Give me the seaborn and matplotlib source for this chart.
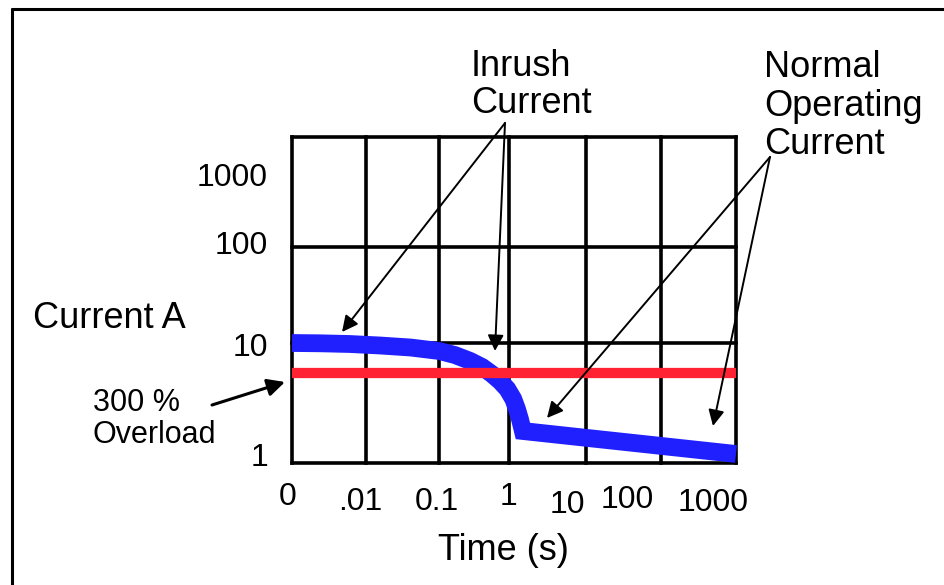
import matplotlib.pyplot as plt
import seaborn as sns
import pandas as pd
from matplotlib.lines import Line2D

# Schematic units: x = one grid column per decade, y = grid units
inrush_x = [0.00, 0.38, 0.78, 1.19, 1.60, 1.99, 2.20, 2.41, 2.57, 2.70, 2.81,
            2.91, 2.99, 3.04, 3.08, 3.11, 3.12, 6.00]
inrush_y = [1.20, 1.197, 1.19, 1.175, 1.155, 1.12, 1.08, 1.02, 0.96, 0.89, 0.82,
            0.74, 0.64, 0.54, 0.44, 0.35, 0.32, 0.09]
overload_x = [0.0, 6.0]
overload_y = [0.90, 0.90]

x_grid = [0.0, 1.0, 1.99, 2.93, 3.97, 4.99, 6.0]
y_grid = [0.0, 1.20, 2.16, 3.26]

x_tick_labels = ['0', '.01', '0.1', '1', '10', '100', '1000']
y_tick_labels = ['1', '10', '100', '1000']

W, H = 945, 585


def fx(px):
    return px / W


def fy(py):
    return 1 - py / H


sns.set_theme(style='white')
plt.rcParams['font.family'] = ['Liberation Sans', 'DejaVu Sans']
plt.rcParams['text.color'] = 'black'

fig = plt.figure(figsize=(W / 100, H / 100), dpi=100)
fig.patch.set_facecolor('white')

# outer frame (only left and top edges fall inside the picture)
fig.add_artist(Line2D([fx(12), fx(12)], [fy(9), 0], color='black', lw=2.2))
fig.add_artist(Line2D([fx(12), 1], [fy(9), fy(9)], color='black', lw=2.2))

ax = fig.add_axes([fx(292), fy(463), (736 - 292) / W, (463 - 137) / H])
ax.set_xlim(0, 6)
ax.set_ylim(0, 3.26)

vl = ax.vlines(x_grid, 0, 3.26, color='black', lw=2.6, clip_on=False, zorder=1)
hl = ax.hlines(y_grid, 0, 6, color='black', lw=2.6, clip_on=False, zorder=1)
vl.set_capstyle('projecting')
hl.set_capstyle('projecting')

df_in = pd.DataFrame({'t': inrush_x, 'i': inrush_y})
df_ov = pd.DataFrame({'t': overload_x, 'i': overload_y})
sns.lineplot(data=df_in, x='t', y='i', ax=ax, color='#2020ff', lw=12.8,
             sort=False, estimator=None, solid_capstyle='butt',
             solid_joinstyle='miter', zorder=3, clip_on=False)
sns.lineplot(data=df_ov, x='t', y='i', ax=ax, color='#ff2233', lw=7.4,
             sort=False, estimator=None, solid_capstyle='butt', zorder=4,
             clip_on=False)
ax.axis('off')

# tick labels (placed like the original drawing)
x_lab_px = [288, 360, 437, 509, 567, 627, 713]
x_lab_py = [497, 502, 502, 497, 505, 500, 503]
for lab, px, py in zip(x_tick_labels, x_lab_px, x_lab_py):
    fig.text(fx(px), fy(py), lab, ha='center', va='center', fontsize=23)

y_lab_py = [458, 348, 246, 178]
for lab, py in zip(y_tick_labels, y_lab_py):
    fig.text(fx(268), fy(py), lab, ha='right', va='center', fontsize=23)

fig.text(fx(503), fy(551), 'Time (s)', ha='center', va='center', fontsize=26)
fig.text(fx(33), fy(318), 'Current A', ha='left', va='center', fontsize=26)
fig.text(fx(93), fy(419), '300 %\nOverload', ha='left', va='center',
         fontsize=22, linespacing=1.1)
fig.text(fx(471), fy(85), 'Inrush\nCurrent', ha='left', va='center',
         fontsize=26, linespacing=1.1)
fig.text(fx(764), fy(106), 'Normal\nOperating\nCurrent', ha='left',
         va='center', fontsize=26, linespacing=1.12)

arrow = dict(arrowstyle='-|>', mutation_scale=24, lw=1.4, color='black',
             shrinkA=0, shrinkB=0)
# inrush current arrows
for tx, ty in [(0.676, 1.31), (2.743, 1.12)]:
    ax.annotate('', xy=(tx, ty), xycoords='data',
                xytext=(fx(505), fy(123)), textcoords='figure fraction',
                arrowprops=arrow, zorder=5)
# normal operating current arrows
for tx, ty in [(3.446, 0.45), (5.689, 0.37)]:
    ax.annotate('', xy=(tx, ty), xycoords='data',
                xytext=(fx(770), fy(157)), textcoords='figure fraction',
                arrowprops=arrow, zorder=5)
# overload arrow
ax.annotate('', xy=(fx(285), fy(382)), xycoords='figure fraction',
            xytext=(fx(212), fy(405)), textcoords='figure fraction',
            arrowprops=dict(arrowstyle='-|>', mutation_scale=26, lw=2.2,
                            color='black', shrinkA=0, shrinkB=0))

fig.savefig('out.png', dpi=100)
plt.close(fig)
